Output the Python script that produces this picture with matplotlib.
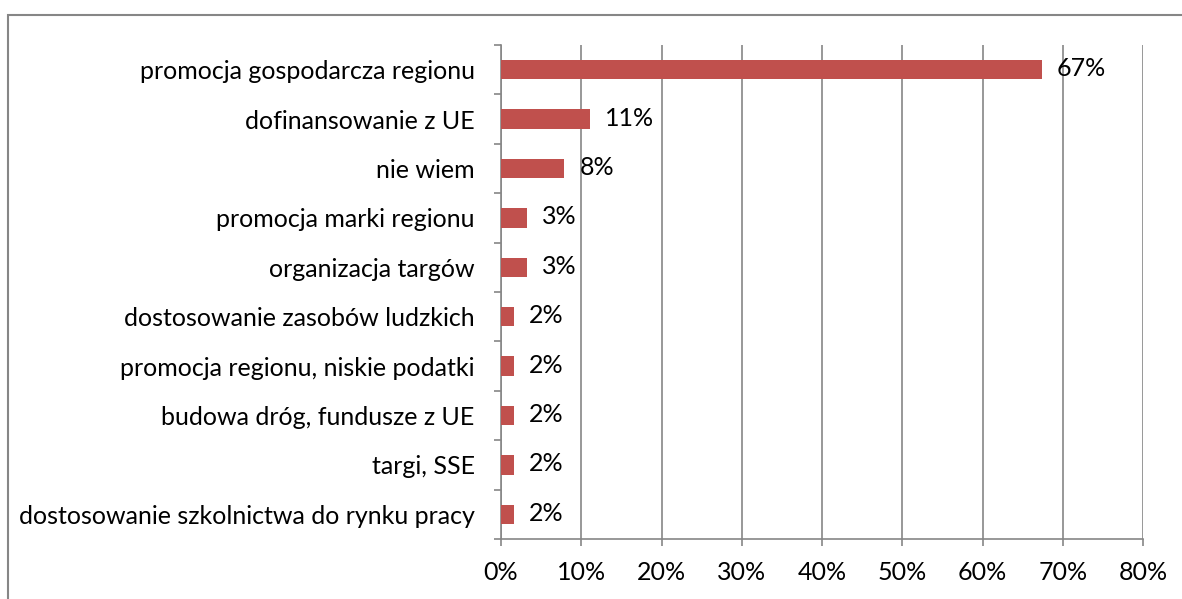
import matplotlib.pyplot as plt
from matplotlib.patches import Rectangle
from matplotlib.ticker import FixedLocator

kategorie = [
    "promocja gospodarcza regionu",
    "dofinansowanie z UE",
    "nie wiem",
    "promocja marki regionu",
    "organizacja targów",
    "dostosowanie zasobów ludzkich",
    "promocja regionu, niskie podatki",
    "budowa dróg, fundusze z UE",
    "targi, SSE",
    "dostosowanie szkolnictwa do rynku pracy",
]
udzial = [67.4, 11.1, 7.9, 3.2, 3.2, 1.6, 1.6, 1.6, 1.6, 1.6]
osie_x = [0, 10, 20, 30, 40, 50, 60, 70, 80]

plt.rcParams['font.family'] = ['Lato', 'DejaVu Sans']
szary = "#868686"
kolor = "#C0504D"
rozmiar = 18

fig = plt.figure(figsize=(11.82, 5.99), dpi=100)
ax = fig.add_axes([501 / 1182, 1 - 539 / 599, (1143 - 501) / 1182, (539 - 45) / 599])

poz = list(range(len(kategorie)))
ax.barh(poz, udzial, height=0.39, color=kolor, zorder=3)

for y, v in zip(poz, udzial):
    ax.annotate(f"{v:.0f}%", xy=(v, y), xytext=(15, 1), textcoords="offset pixels",
                va="center", ha="left", fontsize=rozmiar, color="black", zorder=4)

ax.set_xlim(0, 80)
ax.set_ylim(len(kategorie) - 0.5, -0.5)
ax.set_xticks(osie_x)
ax.set_xticklabels([f"{t}%" for t in osie_x])
ax.set_yticks(poz)
ax.set_yticklabels(kategorie)
ax.yaxis.set_minor_locator(FixedLocator([p - 0.5 for p in poz] + [len(poz) - 0.5]))

ax.tick_params(axis="y", which="major", length=0, pad=19, labelsize=rozmiar)
ax.tick_params(axis="y", which="minor", length=5, width=1.2, color=szary)
ax.tick_params(axis="x", length=5, width=1.2, color=szary, pad=11, labelsize=rozmiar)

ax.grid(axis="x", color=szary, linewidth=1.2, zorder=0)
for s in ["top", "right"]:
    ax.spines[s].set_visible(False)
for s in ["left", "bottom"]:
    ax.spines[s].set_color(szary)
    ax.spines[s].set_linewidth(1.2)

# ramka wokół wykresu
fig.add_artist(Rectangle((8 / 1182, -0.1), 1.2, 1 - 15 / 599 + 0.1, transform=fig.transFigure,
                         fill=False, edgecolor=szary, linewidth=1.5))

fig.savefig("out.png", dpi=100)
